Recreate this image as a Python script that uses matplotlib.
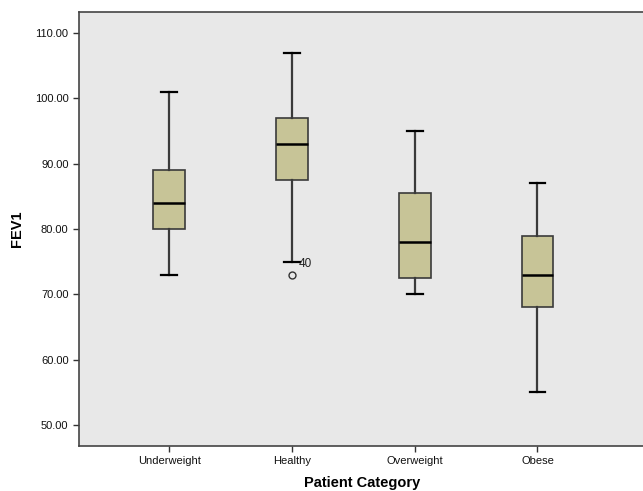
import matplotlib
matplotlib.use("Agg")
import matplotlib.pyplot as plt

plt.rcParams['font.family'] = ['Liberation Sans', 'DejaVu Sans']

categories = ["Underweight", "Healthy", "Overweight", "Obese"]
whislo = [73, 75, 70, 55]
q1 = [80, 87.5, 72.5, 68]
med = [84, 93, 78, 73]
q3 = [89, 97, 85.5, 79]
whishi = [101, 107, 95, 87]
fliers = [[], [73], [], []]
flier_labels = [[], ["40"], [], []]
yticks = [50, 60, 70, 80, 90, 100, 110]

fig = plt.figure(figsize=(6.43, 4.91), dpi=100)
ax = fig.add_axes([79/643, 45/491, 1 - 79/643 + 0.002, (446-12)/491])
ax.set_facecolor('#e8e8e8')

stats = []
for i, c in enumerate(categories):
    stats.append(dict(label=c, whislo=whislo[i], q1=q1[i], med=med[i], q3=q3[i],
                      whishi=whishi[i], fliers=fliers[i]))

ax.bxp(stats, positions=[1, 2, 3, 4], widths=0.26, patch_artist=True,
       boxprops=dict(facecolor='#c7c497', edgecolor='#3a3a3a', linewidth=1.2),
       medianprops=dict(color='black', linewidth=1.8),
       whiskerprops=dict(color='#3a3a3a', linewidth=1.6),
       capprops=dict(color='black', linewidth=1.6),
       capwidths=0.13,
       flierprops=dict(marker='o', markerfacecolor='none', markeredgecolor='#333333',
                       markersize=5, markeredgewidth=1.0))

for i in range(len(categories)):
    for v, lab in zip(fliers[i], flier_labels[i]):
        ax.annotate(lab, xy=(i + 1, whislo[i]), xytext=(5, -2), textcoords='offset points',
                    fontsize=8.5, color='#222222', va='center')

ax.set_xlim(0.265, 4.87)
ax.set_ylim(46.8, 113.2)
ax.set_yticks(yticks)
ax.set_yticklabels([f"{t:.2f}" for t in yticks])
ax.tick_params(axis='both', labelsize=8, length=4, width=1, colors='#333333', labelcolor='#111111')
ax.spines['right'].set_visible(False)
for s in ['left', 'bottom', 'top']:
    ax.spines[s].set_color('#444444')
    ax.spines[s].set_linewidth(1.2)

ax.set_ylabel("FEV1", fontsize=10.5, fontweight='bold', labelpad=8)
ax.set_xlabel("Patient Category", fontsize=10.5, fontweight='bold', labelpad=7)

fig.savefig("out.png", dpi=100, facecolor='white')
